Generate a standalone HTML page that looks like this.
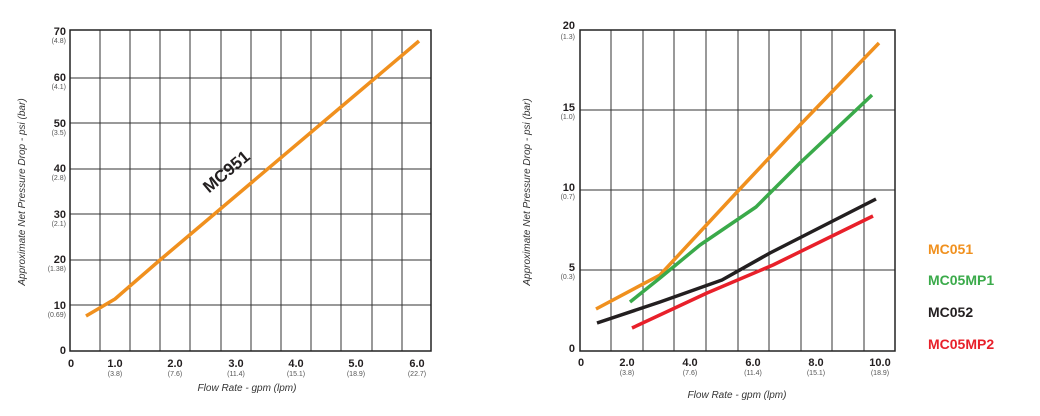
<!DOCTYPE html>
<html><head><meta charset="utf-8"><style>
html,body{margin:0;padding:0;background:#fff;}
svg{display:block;font-family:"Liberation Sans",sans-serif;}
.t{font-size:11px;font-weight:bold;fill:#231f20;}
.s{font-size:7px;fill:#555;}
.g{stroke:#333;stroke-width:1;fill:none;}
.it{font-size:10px;font-style:italic;fill:#333;}
.L{fill:none;stroke-width:3.5;stroke-linejoin:round;}
.lg{font-size:14px;font-weight:bold;}
</style></head><body>
<svg width="1040" height="416" viewBox="0 0 1040 416">
<g class="g">
<path d="M100 30V351M130 30V351M160 30V351M190 30V351M221 30V351M251 30V351M281 30V351M311 30V351M341 30V351M372 30V351M402 30V351"/>
<path d="M70 78H431M70 123H431M70 169H431M70 214H431M70 260H431M70 305H431"/>
<rect x="70" y="30" width="361" height="321" stroke="#222" stroke-width="1.5"/>
</g>
<g class="t" text-anchor="end">
<text x="66" y="35">70</text><text x="66" y="81">60</text><text x="66" y="127">50</text><text x="66" y="172">40</text><text x="66" y="218">30</text><text x="66" y="263">20</text><text x="66" y="309">10</text><text x="66" y="354">0</text>
</g>
<g class="s" text-anchor="end">
<text x="66" y="43">(4.8)</text><text x="66" y="89">(4.1)</text><text x="66" y="135">(3.5)</text><text x="66" y="180">(2.8)</text><text x="66" y="226">(2.1)</text><text x="66" y="271">(1.38)</text><text x="66" y="317">(0.69)</text>
</g>
<g class="t" text-anchor="middle">
<text x="71" y="367">0</text><text x="115" y="367">1.0</text><text x="175" y="367">2.0</text><text x="236" y="367">3.0</text><text x="296" y="367">4.0</text><text x="356" y="367">5.0</text><text x="417" y="367">6.0</text>
</g>
<g class="s" text-anchor="middle">
<text x="115" y="376">(3.8)</text><text x="175" y="376">(7.6)</text><text x="236" y="376">(11.4)</text><text x="296" y="376">(15.1)</text><text x="356" y="376">(18.9)</text><text x="417" y="376">(22.7)</text>
</g>
<text class="it" x="247" y="391" text-anchor="middle">Flow Rate - gpm (lpm)</text>
<text class="it" transform="translate(25,192) rotate(-90)" text-anchor="middle">Approximate Net Pressure Drop - psi (bar)</text>
<polyline class="L" stroke="#f0901e" points="86,316 115,299 160,260 419,41"/>
<text transform="translate(230,176) rotate(-40)" text-anchor="middle" style="font-size:17px;font-weight:bold;fill:#231f20">MC951</text>

<g class="g">
<path d="M611 30V351M643 30V351M674 30V351M706 30V351M738 30V351M769 30V351M801 30V351M832 30V351M864 30V351"/>
<path d="M580 110H895M580 190H895M580 270H895"/>
<rect x="580" y="30" width="315" height="321" stroke="#222" stroke-width="1.5"/>
</g>
<g class="t" text-anchor="end">
<text x="575" y="29">20</text><text x="575" y="111">15</text><text x="575" y="191">10</text><text x="575" y="271">5</text><text x="575" y="352">0</text>
</g>
<g class="s" text-anchor="end">
<text x="575" y="39">(1.3)</text><text x="575" y="119">(1.0)</text><text x="575" y="199">(0.7)</text><text x="575" y="279">(0.3)</text>
</g>
<g class="t" text-anchor="middle">
<text x="581" y="366">0</text><text x="627" y="366">2.0</text><text x="690" y="366">4.0</text><text x="753" y="366">6.0</text><text x="816" y="366">8.0</text><text x="880" y="366">10.0</text>
</g>
<g class="s" text-anchor="middle">
<text x="627" y="375">(3.8)</text><text x="690" y="375">(7.6)</text><text x="753" y="375">(11.4)</text><text x="816" y="375">(15.1)</text><text x="880" y="375">(18.9)</text>
</g>
<text class="it" x="737" y="398" text-anchor="middle">Flow Rate - gpm (lpm)</text>
<text class="it" transform="translate(530,192) rotate(-90)" text-anchor="middle">Approximate Net Pressure Drop - psi (bar)</text>
<polyline class="L" stroke="#f0901e" points="596,309 660,275 738,191 800,125 879,43"/>
<polyline class="L" stroke="#3aaa4a" points="630,302 660,278 700,245 756,207 800,163 872,95"/>
<polyline class="L" stroke="#231f20" points="597,323 660,302 722,280 770,253 876,199"/>
<polyline class="L" stroke="#e8202a" points="632,328 707,293 773,265 873,216"/>
<text class="lg" x="928" y="254" fill="#f0901e">MC051</text>
<text class="lg" x="928" y="285" fill="#3aaa4a">MC05MP1</text>
<text class="lg" x="928" y="317" fill="#231f20">MC052</text>
<text class="lg" x="928" y="349" fill="#e8202a">MC05MP2</text>
</svg>
</body></html>
